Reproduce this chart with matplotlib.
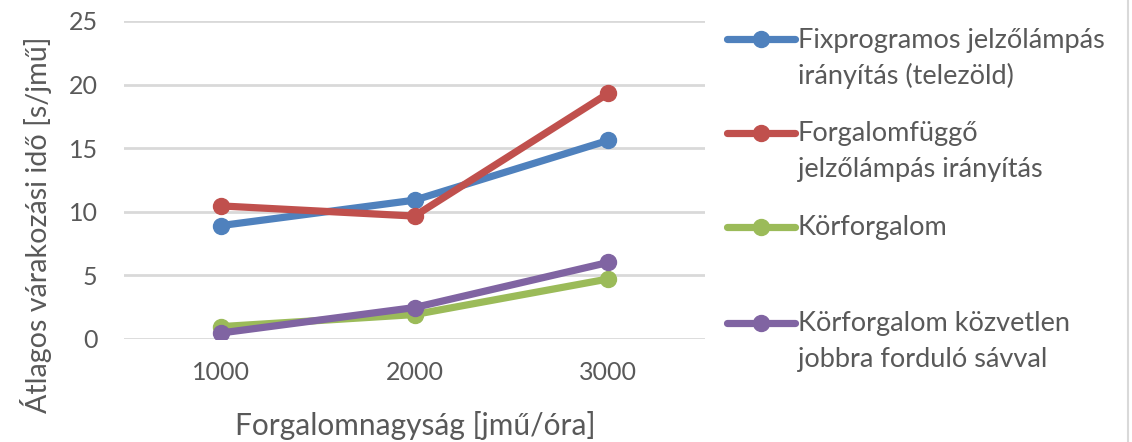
import matplotlib.pyplot as plt
from matplotlib.lines import Line2D
import numpy as np

plt.rcParams['font.family'] = ['Lato', 'DejaVu Sans']

categories = ['1000', '2000', '3000']
fix_signal = [8.9, 10.9, 15.6]
adaptive_signal = [10.45, 9.65, 19.3]
roundabout = [0.95, 1.9, 4.7]
roundabout_bypass = [0.45, 2.45, 6.0]

labels = ['Fixprogramos jelzőlámpás\nirányítás (telezöld)',
          'Forgalomfüggő\njelzőlámpás irányítás',
          'Körforgalom',
          'Körforgalom közvetlen\njobbra forduló sávval']
colors = ['#4F81BD', '#C0504D', '#9BBB59', '#8064A2']
text_color = '#595959'
grid_color = '#D9D9D9'

W, H = 1132, 442
fig = plt.figure(figsize=(W / 100, H / 100), dpi=100)
ax = fig.add_axes([124 / W, 1 - 338.7 / H, (705 - 124) / W, (338.7 - 21) / H])

x = np.arange(len(categories))
series = [fix_signal, adaptive_signal, roundabout, roundabout_bypass]
for vals, c in zip(series, colors):
    ax.plot(x, vals, color=c, lw=5.2, marker='o', ms=11.5, solid_capstyle='round', zorder=3)

ax.set_xlim(-0.5, len(categories) - 0.5)
ax.set_ylim(0, 25)
ax.set_yticks(range(0, 26, 5))
ax.set_xticks(x)
ax.set_xticklabels(categories)
ax.yaxis.grid(True, color=grid_color, lw=2)
ax.set_axisbelow(True)
for s in ax.spines.values():
    s.set_visible(False)
ax.tick_params(axis='both', length=0, labelsize=18, colors=text_color)
ax.tick_params(axis='y', pad=19)
ax.tick_params(axis='x', pad=16)

fig.text(415 / W, 1 - 435 / H, 'Forgalomnagyság [jmű/óra]', ha='center', va='baseline',
         fontsize=21.5, color=text_color)
fig.text(36 / W, 1 - 225 / H, 'Átlagos várakozási idő [s/jmű]', rotation=90,
         ha='center', va='center', fontsize=20.6, color=text_color)

# legend drawn by hand so the handle sits on the first text line
legend_y = [39.3, 132.7, 227, 323]
line_gap = 36
for lab, c, yy in zip(labels, colors, legend_y):
    fy = 1 - yy / H
    fig.add_artist(Line2D([727 / W, 795 / W], [fy, fy], color=c, lw=5.2,
                          solid_capstyle='round', transform=fig.transFigure))
    fig.add_artist(Line2D([761 / W], [fy], color=c, marker='o', ms=11.5,
                          transform=fig.transFigure))
    for i, part in enumerate(lab.split('\n')):
        fig.text(798 / W, 1 - (yy + 8.5 + i * line_gap) / H, part, ha='left',
                 va='baseline', fontsize=19.5, color=text_color)

fig.add_artist(Line2D([1128 / W, 1128 / W], [0, 1], color=grid_color, lw=1.5,
                      transform=fig.transFigure))

fig.savefig('out.png', dpi=100)
